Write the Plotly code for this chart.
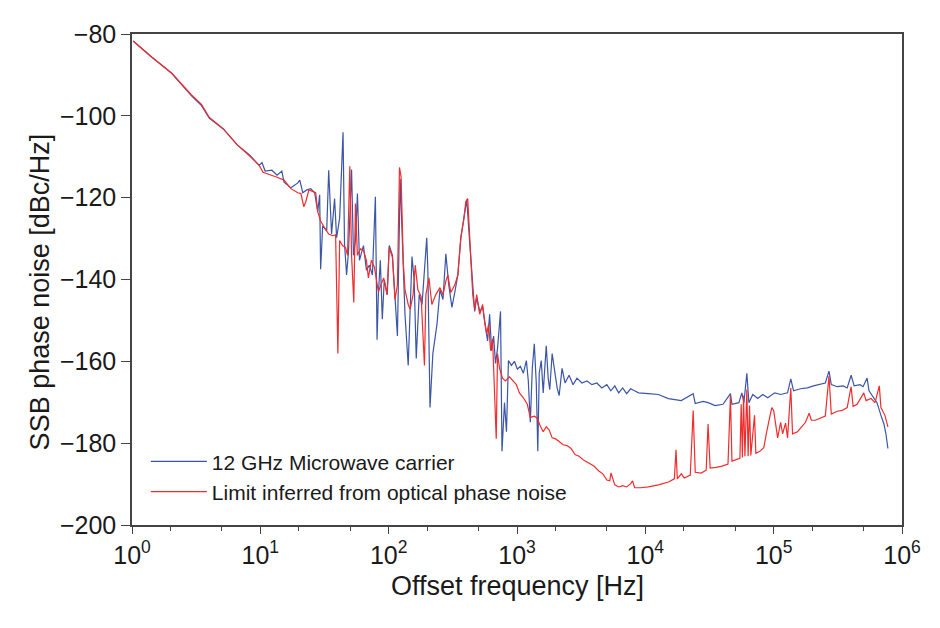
import plotly.graph_objects as go

# ---- data (offset frequency in Hz, SSB phase noise in dBc/Hz) ----
microwave_freq = [
    1.02, 1.43, 2.04, 2.91, 3.48, 4.01, 5.15, 6.61, 8.19, 9.79,
    10.3, 10.9, 12.3, 13.5, 14.7, 15.3, 17.3, 19.6, 20.3, 21.4,
    23.0, 24.7, 26.5, 28.0, 29.0, 29.5, 30.6, 32.9, 34.1, 35.9,
    37.9, 39.3, 41.5, 44.1, 45.3, 47.0, 48.7, 51.4, 53.2, 55.1,
    57.1, 59.2, 63.6, 67.1, 70.8, 74.7, 78.8, 81.2, 83.1, 86.1,
    89.2, 92.4, 97.5, 101, 107, 112, 117, 123, 130, 134,
    142, 147, 152, 158, 164, 173, 182, 198, 202, 210,
    221, 238, 251, 265, 279, 294, 311, 328, 346, 365,
    385, 406, 428, 452, 468, 485, 512, 540, 560, 590,
    612, 634, 657, 680, 705, 744, 764, 799, 828, 858,
    905, 955, 1007, 1062, 1121, 1183, 1225, 1270, 1316, 1364,
    1413, 1452, 1490, 1545, 1600, 1690, 1750, 1800, 1879, 1950,
    2055, 2130, 2245, 2370, 2545, 2735, 2933, 3206, 3506, 3834,
    4190, 4584, 5012, 5383, 5780, 6200, 6665, 7150, 7680, 8245,
    8853, 10590, 12650, 15130, 19060, 23600, 24480, 28200, 30830, 34940,
    40290, 46040, 47300, 53580, 56490, 58610, 61820, 64100, 68770, 75200,
    82240, 89920, 101900, 113300, 128300, 136000, 142900, 161900, 183300, 204000,
    227100, 252600, 269900, 281200, 312800, 348300, 373900, 401400, 423600, 471400,
    497400, 534500, 553400, 605300, 638300, 685500, 722900, 749400, 776600,
]
microwave_dbc = [
    -81.7, -85.7, -89.6, -95.1, -97.5, -100.6, -103.2, -107.1, -109.5, -112.1,
    -111.4, -113.5, -113.3, -114.5, -113.5, -116.2, -117.6, -116.4, -115.7, -118.8,
    -118.1, -117.8, -118.8, -123.4, -119.3, -137.5, -126.9, -128.1, -113.3, -128.9,
    -120.2, -129.8, -125.0, -104.0, -131.3, -138.9, -132.9, -113.1, -134.1, -130.5,
    -119.0, -135.3, -131.7, -137.7, -136.5, -138.9, -119.8, -154.7, -143.7, -135.3,
    -149.7, -140.1, -143.7, -131.7, -134.1, -144.9, -153.8, -115.4, -135.8, -148.5,
    -161.0, -145.4, -134.4, -140.1, -159.3, -143.7, -146.1, -129.8, -137.7, -171.3,
    -158.1, -150.9, -142.5, -144.9, -133.7, -141.3, -146.8, -143.0, -138.9, -129.8,
    -125.3, -120.5, -131.0, -143.0, -147.8, -144.4, -147.8, -146.8, -150.2, -155.0,
    -148.5, -157.4, -153.8, -160.5, -156.9, -147.8, -182.0, -170.1, -177.2, -159.8,
    -161.0, -160.0, -161.9, -161.2, -162.9, -159.8, -164.8, -174.9, -161.7, -155.7,
    -165.3, -182.0, -162.9, -159.8, -167.7, -156.2, -164.1, -166.9, -158.1, -162.2,
    -166.5, -168.4, -161.7, -165.3, -163.4, -165.7, -164.1, -165.3, -164.8, -165.7,
    -165.3, -166.5, -165.7, -167.2, -166.0, -167.7, -166.5, -167.9, -166.7, -167.2,
    -167.7, -167.9, -168.1, -169.1, -169.6, -167.9, -170.3, -169.8, -170.1, -170.8,
    -170.5, -167.9, -170.5, -170.1, -167.7, -170.1, -162.9, -170.1, -168.1, -169.1,
    -168.1, -168.9, -167.7, -168.1, -167.7, -164.3, -167.2, -166.7, -166.5, -166.0,
    -165.7, -165.3, -162.4, -165.7, -166.2, -166.0, -166.5, -163.4, -166.0, -165.7,
    -166.2, -164.1, -167.2, -169.1, -170.1, -173.2, -175.3, -177.7, -181.3,
]

optical_freq = [
    1.02, 1.43, 2.04, 2.91, 3.48, 4.01, 5.15, 6.61, 8.19, 9.79,
    10.5, 12.3, 13.5, 15.3, 17.3, 19.6, 20.7, 21.8, 22.6, 23.9,
    25.6, 27.0, 28.0, 29.5, 31.7, 34.1, 36.6, 38.6, 40.2, 41.5,
    43.7, 46.1, 47.8, 49.8, 51.4, 53.5, 55.1, 57.1, 60.3, 63.6,
    67.1, 69.5, 73.3, 77.4, 83.1, 87.7, 91.4, 97.1, 101, 107,
    112, 117, 121.4, 125, 130, 134, 142, 147, 155, 161,
    169, 179, 190, 195, 206, 217, 233, 251, 265, 279,
    289, 305, 328, 346, 365, 385, 399, 413, 428, 452,
    468, 485, 512, 540, 560, 580, 601, 623, 645, 668,
    689, 705, 731, 771, 813, 873, 921, 989, 1044, 1121,
    1203, 1270, 1364, 1439, 1518, 1600, 1690, 1782, 1879, 1983,
    2130, 2286, 2455, 2637, 2832, 3041, 3325, 3634, 3972, 4342,
    4666, 5012, 5280, 5400, 5780, 6200, 6665, 7150, 7680, 7960,
    8245, 9180, 10590, 12650, 15130, 16830, 17340, 17740, 19060, 20100,
    22400, 23600, 24480, 27230, 29800, 30830, 31980, 35570, 39600, 44070,
    46040, 47300, 50790, 54580, 55830, 57050, 58240, 59700, 61820, 63240,
    64860, 66370, 70940, 72610, 77950, 83750, 88300, 93130, 96600, 100000,
    103600, 107400, 113300, 117400, 123800, 128300, 136000, 140300, 153500, 167500,
    177000, 188900, 196800, 211300, 231200, 252600, 269900, 281200, 312800, 342000,
    373900, 401400, 416000, 446700, 503600, 524800, 573600, 616600, 665300, 685500,
    736200, 776600,
]
optical_dbc = [
    -81.7, -85.7, -89.6, -94.9, -97.2, -100.4, -103.2, -107.1, -109.7, -112.1,
    -113.8, -114.5, -115.0, -115.7, -117.8, -118.8, -119.0, -122.2, -121.0, -118.1,
    -118.6, -118.8, -123.4, -125.7, -127.4, -128.9, -129.3, -129.1, -158.1, -130.5,
    -131.7, -132.2, -134.1, -112.3, -134.1, -145.6, -121.4, -134.1, -132.5, -132.9,
    -135.3, -139.6, -135.3, -137.0, -143.0, -140.8, -139.6, -143.7, -132.2, -134.6,
    -144.9, -141.3, -112.6, -114.9, -135.8, -142.5, -146.1, -147.3, -143.7, -136.5,
    -142.5, -144.2, -161.0, -143.7, -139.6, -146.1, -143.7, -142.0, -143.7, -140.4,
    -138.9, -143.2, -141.3, -138.9, -129.8, -125.3, -121.0, -120.2, -131.0, -143.7,
    -147.3, -143.7, -148.5, -146.1, -150.4, -153.3, -150.9, -157.4, -154.5, -167.7,
    -178.9, -158.1, -161.7, -164.1, -164.8, -163.8, -164.6, -165.7, -167.7, -168.9,
    -170.5, -173.7, -173.4, -173.9, -175.8, -177.2, -176.0, -176.8, -178.7, -178.9,
    -179.6, -180.4, -180.6, -181.3, -182.8, -183.2, -184.2, -184.9, -185.6, -186.8,
    -187.5, -189.0, -189.2, -187.3, -190.2, -190.7, -190.4, -190.7, -189.9, -189.2,
    -190.9, -190.9, -190.7, -190.2, -189.5, -188.7, -181.6, -188.7, -187.5, -188.5,
    -187.8, -172.0, -187.1, -187.3, -186.6, -175.3, -186.1, -185.9, -185.6, -185.1,
    -168.4, -184.4, -184.0, -183.7, -170.5, -183.5, -168.4, -183.2, -166.9, -183.2,
    -170.8, -183.0, -173.2, -182.5, -182.0, -181.1, -177.2, -173.4, -171.3, -172.0,
    -174.9, -178.7, -174.9, -177.7, -175.1, -178.7, -166.5, -177.7, -177.2, -175.8,
    -174.9, -172.7, -174.4, -174.4, -173.9, -173.4, -163.6, -172.9, -172.2, -172.0,
    -171.3, -166.2, -171.0, -170.5, -167.7, -169.6, -169.1, -170.1, -166.0, -171.3,
    -173.2, -176.0,
]

series_names = ["12 GHz Microwave carrier", "Limit inferred from optical phase noise"]
x_tick_values = [1, 10, 100, 1000, 10000, 100000, 1000000]
x_tick_labels = ["10<sup>0</sup>", "10<sup>1</sup>", "10<sup>2</sup>", "10<sup>3</sup>",
                 "10<sup>4</sup>", "10<sup>5</sup>", "10<sup>6</sup>"]
y_tick_values = [-200, -180, -160, -140, -120, -100, -80]
y_tick_labels = ["\u2212200", "\u2212180", "\u2212160", "\u2212140", "\u2212120", "\u2212100", "\u221280"]
x_title = "Offset frequency [Hz]"
y_title = "SSB phase noise [dBc/Hz]"

FONT = "Liberation Sans, Arial, Helvetica, sans-serif"
INK = "#1a1a1a"

fig = go.Figure()
fig.add_trace(go.Scatter(
    x=microwave_freq, y=microwave_dbc, mode="lines", name=series_names[0],
    line=dict(color="#3b55a8", width=1.2),
))
fig.add_trace(go.Scatter(
    x=optical_freq, y=optical_dbc, mode="lines", name=series_names[1],
    line=dict(color="#f02c2c", width=1.2),
))

fig.update_layout(
    width=940, height=628,
    margin=dict(l=124, r=46, t=16, b=111),
    paper_bgcolor="white", plot_bgcolor="white",
    font=dict(family=FONT, color=INK),
    showlegend=True,
    legend=dict(
        x=0.018, y=0.026, xanchor="left", yanchor="bottom",
        bgcolor="rgba(0,0,0,0)", borderwidth=0,
        font=dict(size=21, family=FONT, color=INK),
        tracegroupgap=0, itemwidth=56,
    ),
    annotations=[
        dict(text=y_title, xref="paper", yref="paper", x=-0.12, y=0.475,
             xanchor="center", yanchor="middle", textangle=-90, showarrow=False,
             font=dict(size=27, family=FONT, color=INK)),
        dict(text=x_title, xref="paper", yref="paper", x=0.501, y=-0.124,
             xanchor="center", yanchor="middle", showarrow=False,
             font=dict(size=27, family=FONT, color=INK)),
    ],
)
fig.update_xaxes(
    type="log", range=[0, 6],
    tickvals=x_tick_values, ticktext=x_tick_labels,
    ticks="outside", ticklen=7, tickwidth=1.2, tickcolor="#444",
    minor=dict(ticks="outside", ticklen=4, tickwidth=1, tickcolor="#444", showgrid=False),
    showgrid=False, zeroline=False,
    showline=True, linecolor="#444", linewidth=1.5, mirror=True,
    tickfont=dict(size=25, family=FONT, color=INK),
)
fig.update_yaxes(
    range=[-200, -80],
    tickvals=y_tick_values, ticktext=y_tick_labels,
    ticks="outside", ticklen=9, tickwidth=1.2, tickcolor="#444",
    showgrid=False, zeroline=False,
    showline=True, linecolor="#444", linewidth=1.5, mirror=True,
    tickfont=dict(size=25, family=FONT, color=INK),
)

fig.write_html("out.html")
